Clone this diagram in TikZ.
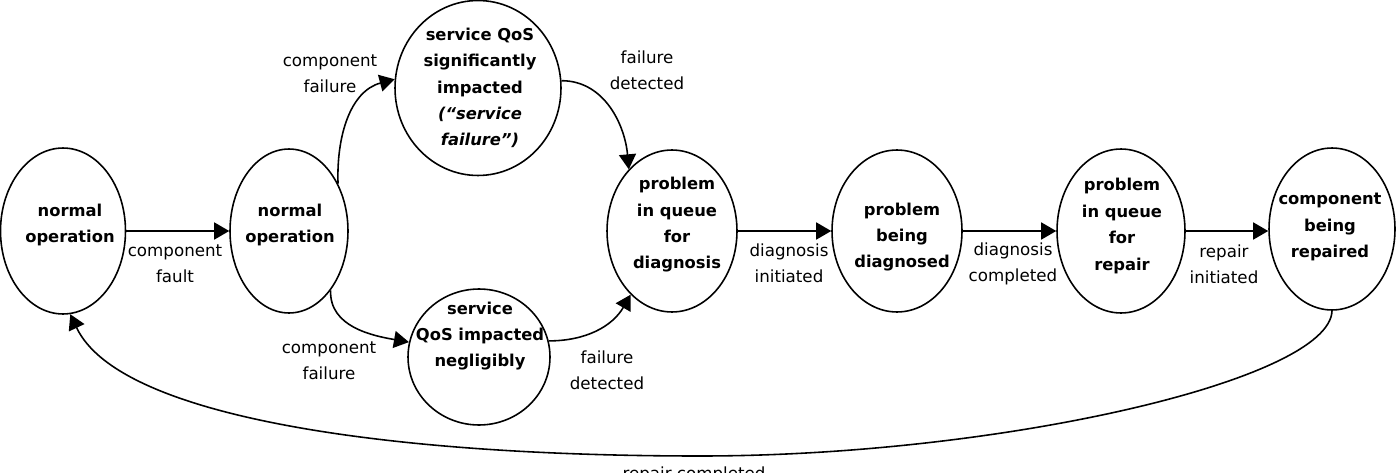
\documentclass[tikz,border=0pt]{standalone}
\usepackage{fontspec}
\setmainfont{DejaVu Sans}
\usetikzlibrary{shapes.geometric,arrows.meta}
\begin{document}
\begin{tikzpicture}[x=0.02cm,y=-0.02cm,
  st/.style={draw,ellipse,line width=0.9pt,inner sep=0pt},
  stt/.style={align=center,font=\bfseries\fontsize{9.3}{15}\selectfont,inner sep=0pt},
  lbl/.style={align=center,font=\fontsize{9.5}{15}\selectfont,inner sep=0pt},
  arr/.style={line width=0.9pt,-{Triangle[length=0.3cm,width=0.34cm]}}]
\useasboundingbox (0,0) rectangle (1396,473);
% states
\node[st,minimum width=2.5cm,minimum height=3.32cm] (n1) at (63,231) {};
\node[st,minimum width=2.36cm,minimum height=3.28cm] (n2) at (289,231) {};
\node[st,minimum width=3.32cm,minimum height=3.5cm] (n3) at (478,88) {};
\node[st,minimum width=2.84cm,minimum height=2.72cm] (n4) at (479,357) {};
\node[st,minimum width=2.6cm,minimum height=3.24cm] (n5) at (672,231) {};
\node[st,minimum width=2.6cm,minimum height=3.24cm] (n6) at (897,231) {};
\node[st,minimum width=2.56cm,minimum height=3.28cm] (n7) at (1121,231) {};
\node[st,minimum width=2.52cm,minimum height=3.24cm] (n8) at (1332,229) {};
% state texts
\node[stt] (t1) at (70,225) {normal\\operation};
\node[stt] (t2) at (290,225) {normal\\operation};
\node[stt] (t3) at (480,88) {service QoS\\significantly\\impacted\\\textit{(“service}\\\textit{failure”)}};
\node[stt] (t4) at (480,336) {service\\QoS impacted\\negligibly};
\node[stt] (t5) at (677,225) {problem\\in queue\\for\\diagnosis};
\node[stt] (t6) at (902,237) {problem\\being\\diagnosed};
\node[stt] (t7) at (1122,226) {problem\\in queue\\for\\repair};
\node[stt] (t8) at (1330,227) {component\\being\\repaired};
% transitions
\draw[arr] (n1.east) -- (n1.east -| n2.west);
\draw[arr] (n5.east) -- (n5.east -| n6.west);
\draw[arr] (n6.east) -- (n6.east -| n7.west);
\draw[arr] (n7.east) -- (n7.east -| n8.west);
\draw[arr] (n2.44) to[out=92,in=195] (n3.174);
\draw[arr] (n3.5) to[out=0,in=95] (n5.125);
\draw[arr] (n2.-55) to[out=-92,in=170] (n4.168);
\draw[arr] (n4.13) to[out=0,in=-120] (n5.-123);
\coordinate (bot) at (700,456);
\draw[arr] (n8.south) .. controls (1330,380) and (1000,456) .. (bot)
  .. controls (400,456) and (120,420) .. (n1.-85);
% labels
\node[lbl] (l1) at (175,264) {component\\fault};
\node[lbl] (l2) at (330,74) {component\\failure};
\node[lbl] (l3) at (647,70) {failure\\detected};
\node[lbl] (l4) at (329,361) {component\\failure};
\node[lbl] (l5) at (607,370) {failure\\detected};
\node[lbl] (l6) at (789,263) {diagnosis\\initiated};
\node[lbl] (l7) at (1013,264) {diagnosis\\completed};
\node[lbl] (l8) at (1224,264) {repair\\initiated};
\node[lbl] (l9) at (694,475) {repair completed};
\end{tikzpicture}
\end{document}
